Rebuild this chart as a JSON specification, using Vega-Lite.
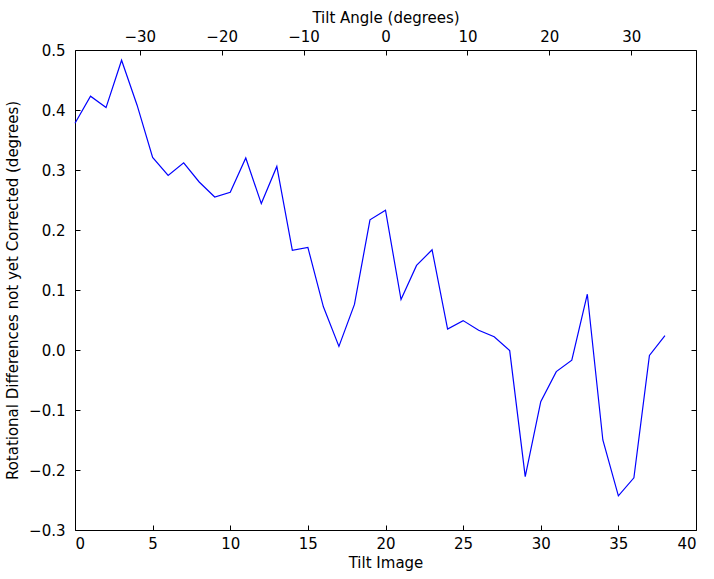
{
  "$schema": "https://vega.github.io/schema/vega-lite/v6.json",
  "width": 621,
  "height": 480,
  "autosize": "none",
  "padding": {"left": 75, "top": 50, "right": 18, "bottom": 49},
  "config": {
    "font": "DejaVu Sans",
    "view": {"stroke": "black", "strokeWidth": 1},
    "axis": {
      "grid": false,
      "domain": false,
      "tickColor": "black",
      "tickSize": -5,
      "labelFontSize": 15,
      "labelColor": "black",
      "titleFontSize": 15,
      "titleFontWeight": "normal",
      "titleColor": "black",
      "labelPadding": 11
    }
  },
  "datasets": {
    "rot": [
      {"image": 0, "value": 0.378},
      {"image": 1, "value": 0.423},
      {"image": 2, "value": 0.404},
      {"image": 3, "value": 0.483},
      {"image": 4, "value": 0.408},
      {"image": 5, "value": 0.321},
      {"image": 6, "value": 0.291},
      {"image": 7, "value": 0.312},
      {"image": 8, "value": 0.28},
      {"image": 9, "value": 0.255},
      {"image": 10, "value": 0.263},
      {"image": 11, "value": 0.32},
      {"image": 12, "value": 0.244},
      {"image": 13, "value": 0.306},
      {"image": 14, "value": 0.166},
      {"image": 15, "value": 0.171},
      {"image": 16, "value": 0.072},
      {"image": 17, "value": 0.006},
      {"image": 18, "value": 0.076},
      {"image": 19, "value": 0.217},
      {"image": 20, "value": 0.233},
      {"image": 21, "value": 0.084},
      {"image": 22, "value": 0.141},
      {"image": 23, "value": 0.167},
      {"image": 24, "value": 0.035},
      {"image": 25, "value": 0.049},
      {"image": 26, "value": 0.033},
      {"image": 27, "value": 0.022},
      {"image": 28, "value": -0.001},
      {"image": 29, "value": -0.211},
      {"image": 30, "value": -0.086},
      {"image": 31, "value": -0.036},
      {"image": 32, "value": -0.017},
      {"image": 33, "value": 0.093},
      {"image": 34, "value": -0.15},
      {"image": 35, "value": -0.243},
      {"image": 36, "value": -0.213},
      {"image": 37, "value": -0.009},
      {"image": 38, "value": 0.024}
    ],
    "angles": [
      {"angle": -37.9},
      {"angle": 37.9}
    ]
  },
  "layer": [
    {
      "data": {"name": "rot"},
      "mark": {"type": "line", "color": "#0000ff", "strokeWidth": 1.2},
      "encoding": {
        "x": {
          "field": "image", "type": "quantitative",
          "scale": {"domain": [0, 40], "nice": false, "zero": false},
          "axis": {"title": "Tilt Image", "values": [0, 5, 10, 15, 20, 25, 30, 35, 40], "format": "d", "orient": "bottom", "titlePadding": 4}
        },
        "y": {
          "field": "value", "type": "quantitative",
          "scale": {"domain": [-0.3, 0.5], "nice": false, "zero": false},
          "axis": {"title": "Rotational Differences not yet Corrected (degrees)", "values": [-0.3, -0.2, -0.1, 0, 0.1, 0.2, 0.3, 0.4, 0.5], "format": ".1f", "orient": "left", "labelPadding": 15, "titlePadding": 8}
        }
      }
    },
    {
      "data": {"name": "angles"},
      "mark": {"type": "rule", "opacity": 0},
      "encoding": {
        "x": {
          "field": "angle", "type": "quantitative",
          "scale": {"domain": [-37.9, 37.9], "nice": false, "zero": false},
          "axis": {"title": "Tilt Angle (degrees)", "values": [-30, -20, -10, 0, 10, 20, 30], "format": "d", "orient": "top", "titlePadding": 4}
        }
      }
    },
    {
      "data": {"name": "rot"},
      "mark": {"type": "rule", "opacity": 0},
      "encoding": {
        "y": {
          "field": "value", "type": "quantitative",
          "scale": {"domain": [-0.3, 0.5], "nice": false, "zero": false},
          "axis": {"title": null, "values": [-0.3, -0.2, -0.1, 0, 0.1, 0.2, 0.3, 0.4, 0.5], "labels": false, "orient": "right"}
        }
      }
    }
  ],
  "resolve": {"scale": {"x": "independent", "y": "independent"}}
}
